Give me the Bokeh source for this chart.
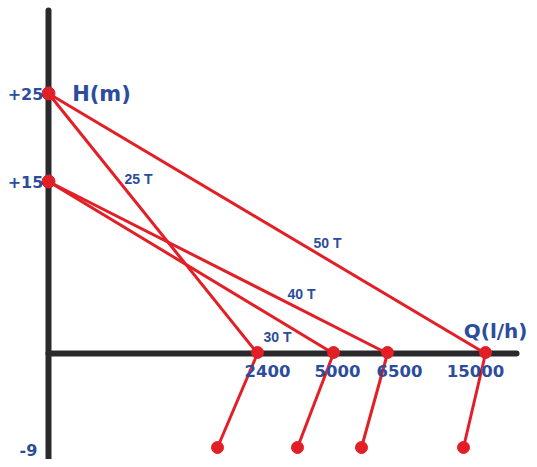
from bokeh.plotting import figure
from bokeh.models import Range1d
from bokeh.core.properties import value
from bokeh.embed import file_html
from bokeh.resources import INLINE

# ---- data ----
head_labels = ["+25", "+15", "-9"]          # H (m) levels
flow_labels = ["2400", "5000", "6500", "15000"]  # Q (l/h)
line_labels = ["25 T", "30 T", "40 T", "50 T"]
line_from_head = [0, 1, 1, 0]   # index into head levels (start of each line)
line_to_flow = [0, 1, 2, 3]     # index into flows (end of each line)

# ---- schematic layout (diagram positions, not data) ----
head_y = [93, 181, 447]
label_head_y = [93, 181, 449]
flow_x = [257, 333, 387, 485]
flow_label_x = [267, 337, 399, 475]
drop_x = [217, 297, 361, 463]
axis_x0, axis_y0 = 48, 353
line_label_pos = [(138, 178), (277, 336), (301, 293), (327, 242)]

RED = "#e21f26"
BLUE = "#2c4c9c"
BLACK = "#2a2a2c"
BIG = value("DejaVu Sans")
SMALL = value("Liberation Sans")

p = figure(width=529, height=459, x_range=Range1d(0, 529), y_range=Range1d(459, 0),
           output_backend="svg", toolbar_location=None, min_border=0)
p.axis.visible = False
p.grid.visible = False
p.outline_line_color = None
p.background_fill_color = "white"
p.border_fill_color = "white"

# axes
p.segment(x0=[axis_x0], y0=[10], x1=[axis_x0], y1=[470], line_color=BLACK,
          line_width=6, line_cap="round")
p.segment(x0=[axis_x0], y0=[axis_y0], x1=[516], y1=[axis_y0], line_color=BLACK,
          line_width=6, line_cap="round")

# characteristic lines
x0s = [axis_x0 for _ in line_from_head]
y0s = [head_y[i] for i in line_from_head]
x1s = [flow_x[j] for j in line_to_flow]
y1s = [axis_y0 for _ in line_to_flow]
p.segment(x0=x0s, y0=y0s, x1=x1s, y1=y1s, line_color=RED, line_width=3)

# drop lines to lower level
p.segment(x0=flow_x, y0=[axis_y0] * 4, x1=drop_x, y1=[head_y[2]] * 4,
          line_color=RED, line_width=3)

# dots
p.scatter(x=[axis_x0, axis_x0], y=head_y[:2], size=13, color=RED)
p.scatter(x=flow_x, y=[axis_y0 - 1] * 4, size=12, color=RED)
p.scatter(x=drop_x, y=[head_y[2]] * 4, size=12, color=RED)

# head labels
p.text(x=[25, 25, 28], y=label_head_y, text=head_labels, text_color=BLUE,
       text_font=BIG, text_font_style="bold", text_font_size="16px",
       text_align="center", text_baseline="middle")
p.text(x=[101], y=[93], text=["H(m)"], text_color=BLUE, text_font=BIG,
       text_font_style="bold", text_font_size="21px", text_align="center",
       text_baseline="middle")
p.text(x=[527], y=[330], text=["Q(l/h)"], text_color=BLUE, text_font=BIG,
       text_font_style="bold", text_font_size="20px", text_align="right",
       text_baseline="middle")

# flow labels
p.text(x=flow_label_x, y=[370] * 4, text=flow_labels, text_color=BLUE,
       text_font=BIG, text_font_style="bold", text_font_size="16.5px",
       text_align="center", text_baseline="middle")

# line labels
p.text(x=[q[0] for q in line_label_pos], y=[q[1] for q in line_label_pos],
       text=line_labels, text_color=BLUE, text_font=SMALL, text_font_style="bold",
       text_font_size="14px", text_align="center", text_baseline="middle")

open("out.html", "w").write(file_html(p, INLINE))
